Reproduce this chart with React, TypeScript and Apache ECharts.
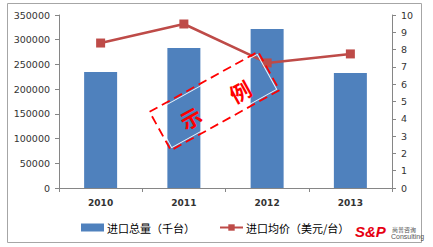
import React, { useEffect, useRef } from "react";
import * as echarts from "echarts";

const categories = ["2010", "2011", "2012", "2013"];
const importVolume = [234700, 283200, 321700, 232600];
const importPrice = [8.38, 9.48, 7.23, 7.75];
const volumeName = "进口总量（千台）";
const priceName = "进口均价（美元/台）";

export default function App() {
  const ref = useRef<HTMLDivElement>(null);
  useEffect(() => {
    if (!ref.current) return;
    const chart = echarts.init(ref.current, undefined, { renderer: "svg" });
    const axisLabel = { color: "#333", fontFamily: "DejaVu Sans", fontSize: 9.5, formatter: (v: number) => String(v) };
    const axisLine = { show: true, lineStyle: { color: "#868686", width: 1 } };
    const stampText = (text: string, x: number, y: number) => ({
      type: "text",
      x,
      y,
      z: 100,
      style: {
        text,
        fontFamily: "Noto Sans CJK SC",
        fontWeight: "bold",
        fontSize: 21,
        fill: "#FF0000",
        align: "center",
        verticalAlign: "middle",
        textShadowColor: "rgba(80,0,0,0.8)",
        textShadowOffsetX: 1,
        textShadowOffsetY: 1,
      },
    });
    chart.setOption({
      animation: false,
      backgroundColor: "#fff",
      grid: { left: 59, right: 41, top: 15, bottom: 59 },
      legend: {
        left: 81,
        top: 222,
        padding: 0,
        itemGap: 24,
        itemWidth: 23,
        itemHeight: 8,
        textStyle: { fontFamily: "Noto Sans CJK SC", fontSize: 11, color: "#000", padding: [0, 0, 0, -2] },
        data: [
          { name: volumeName, icon: "rect" },
          { name: priceName },
        ],
      },
      xAxis: {
        type: "category",
        data: categories,
        axisLine,
        axisTick: { show: true, length: 4, alignWithLabel: false, lineStyle: { color: "#868686" } },
        axisLabel: { color: "#333", fontFamily: "DejaVu Sans", fontWeight: "bold", fontSize: 9, margin: 10 },
      },
      yAxis: [
        {
          type: "value",
          min: 0,
          max: 350000,
          interval: 50000,
          axisLine,
          axisTick: { show: true, length: 4, lineStyle: { color: "#868686" } },
          axisLabel: { ...axisLabel, margin: 9 },
          splitLine: { show: false },
        },
        {
          type: "value",
          min: 0,
          max: 10,
          interval: 1,
          position: "right",
          axisLine,
          axisTick: { show: true, length: 4, lineStyle: { color: "#868686" } },
          axisLabel: { ...axisLabel, margin: 9 },
          splitLine: { show: false },
        },
      ],
      series: [
        {
          name: volumeName,
          type: "bar",
          data: importVolume,
          barWidth: 33,
          itemStyle: { color: "#4F81BD" },
          yAxisIndex: 0,
        },
        {
          name: priceName,
          type: "line",
          data: importPrice,
          yAxisIndex: 1,
          symbol: "rect",
          symbolSize: 9,
          lineStyle: { color: "#BE4B48", width: 2.5 },
          itemStyle: { color: "#BE4B48" },
          z: 5,
        },
      ],
      graphic: [
        {
          type: "rect",
          shape: { x: 7.5, y: 3.5, width: 414, height: 239 },
          style: { fill: "none", stroke: "#A6A6A6", lineWidth: 1 },
          z: 1,
        },
        {
          type: "group",
          x: 214.5,
          y: 101,
          rotation: (29 * Math.PI) / 180,
          z: 100,
          children: [
            {
              type: "rect",
              z: 100,
              shape: { x: -60, y: -20, width: 120, height: 40 },
              style: { fill: "none", stroke: "rgba(255,255,255,0.9)", lineWidth: 1 },
            },
            {
              type: "rect",
              z: 100,
              shape: { x: -62, y: -22, width: 124, height: 44 },
              style: { fill: "none", stroke: "#FF0000", lineWidth: 1.8, lineDash: [9, 5] },
            },
            stampText("示", -29, 3),
            stampText("例", 27, 4),
          ],
        },
        {
          type: "text",
          x: 355,
          y: 224,
          z: 100,
          style: {
            text: "S&P",
            fontFamily: "Liberation Sans",
            fontWeight: 900,
            fontStyle: "italic",
            fontSize: 15,
            fill: "#E60012",
          },
        },
        {
          type: "text",
          x: 392,
          y: 226,
          z: 100,
          style: { text: "尚普咨询", fontFamily: "Noto Sans CJK SC", fontSize: 6, fill: "#555" },
        },
        {
          type: "text",
          x: 391,
          y: 233,
          z: 100,
          style: { text: "Consulting", fontFamily: "Liberation Sans Narrow, Liberation Sans", fontSize: 7, fill: "#555" },
        },
      ],
    });
    return () => chart.dispose();
  }, []);
  return <div ref={ref} style={{ position: "fixed", left: 0, top: 0, width: 433, height: 247 }} />;
}
